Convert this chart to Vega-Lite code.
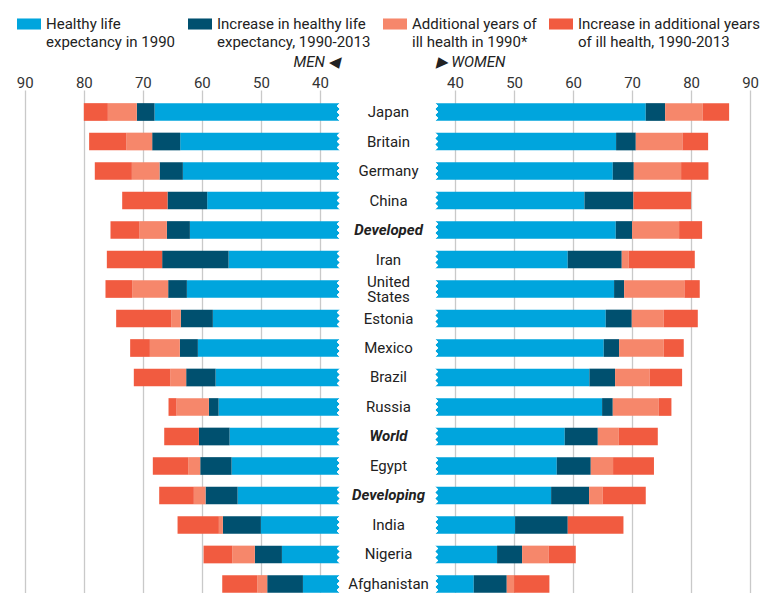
{
  "$schema": "https://vega.github.io/schema/vega-lite/v6.json",
  "padding": {"left": 0, "top": 12, "right": 0, "bottom": 0},
  "bounds": "flush",
  "spacing": 95,
  "background": "white",
  "config": {
    "view": {"stroke": null},
    "font": "Roboto",
    "axis": {"labelFont": "Roboto", "titleFont": "Roboto"}
  },
  "data": {
    "values": [
      {"country": "Japan", "sex": "Men", "healthy1990": 68.02, "healthyIncrease": 3.00, "ill1990": 4.91, "illIncrease": 4.07},
      {"country": "Britain", "sex": "Men", "healthy1990": 63.67, "healthyIncrease": 4.75, "ill1990": 4.35, "illIncrease": 6.33},
      {"country": "Germany", "sex": "Men", "healthy1990": 63.22, "healthyIncrease": 3.95, "ill1990": 4.69, "illIncrease": 6.28},
      {"country": "China", "sex": "Men", "healthy1990": 59.10, "healthyIncrease": 6.72, "ill1990": 0, "illIncrease": 7.68},
      {"country": "Developed", "sex": "Men", "healthy1990": 62.03, "healthyIncrease": 3.90, "ill1990": 4.63, "illIncrease": 4.92},
      {"country": "Iran", "sex": "Men", "healthy1990": 55.48, "healthyIncrease": 11.25, "ill1990": 0, "illIncrease": 9.37},
      {"country": "United States", "sex": "Men", "healthy1990": 62.54, "healthyIncrease": 3.17, "ill1990": 6.10, "illIncrease": 4.52},
      {"country": "Estonia", "sex": "Men", "healthy1990": 58.14, "healthyIncrease": 5.42, "ill1990": 1.64, "illIncrease": 9.32},
      {"country": "Mexico", "sex": "Men", "healthy1990": 60.68, "healthyIncrease": 3.05, "ill1990": 5.08, "illIncrease": 3.34},
      {"country": "Brazil", "sex": "Men", "healthy1990": 57.68, "healthyIncrease": 4.98, "ill1990": 2.71, "illIncrease": 6.16},
      {"country": "Russia", "sex": "Men", "healthy1990": 57.17, "healthyIncrease": 1.64, "ill1990": 5.48, "illIncrease": 1.36},
      {"country": "World", "sex": "Men", "healthy1990": 55.31, "healthyIncrease": 5.20, "ill1990": 0, "illIncrease": 5.87},
      {"country": "Egypt", "sex": "Men", "healthy1990": 54.97, "healthyIncrease": 5.31, "ill1990": 2.04, "illIncrease": 5.99},
      {"country": "Developing", "sex": "Men", "healthy1990": 53.95, "healthyIncrease": 5.43, "ill1990": 1.98, "illIncrease": 5.87},
      {"country": "India", "sex": "Men", "healthy1990": 50.00, "healthyIncrease": 6.44, "ill1990": 0.68, "illIncrease": 7.00},
      {"country": "Nigeria", "sex": "Men", "healthy1990": 46.44, "healthyIncrease": 4.58, "ill1990": 3.84, "illIncrease": 4.86},
      {"country": "Afghanistan", "sex": "Men", "healthy1990": 42.88, "healthyIncrease": 6.05, "ill1990": 1.69, "illIncrease": 5.93},
      {"country": "Japan", "sex": "Women", "healthy1990": 72.32, "healthyIncrease": 3.28, "ill1990": 6.38, "illIncrease": 4.47},
      {"country": "Britain", "sex": "Women", "healthy1990": 67.29, "healthyIncrease": 3.34, "ill1990": 7.91, "illIncrease": 4.35},
      {"country": "Germany", "sex": "Women", "healthy1990": 66.73, "healthyIncrease": 3.56, "ill1990": 8.02, "illIncrease": 4.63},
      {"country": "China", "sex": "Women", "healthy1990": 61.93, "healthyIncrease": 8.30, "ill1990": 0, "illIncrease": 9.77},
      {"country": "Developed", "sex": "Women", "healthy1990": 67.24, "healthyIncrease": 2.76, "ill1990": 7.97, "illIncrease": 3.90},
      {"country": "Iran", "sex": "Women", "healthy1990": 59.10, "healthyIncrease": 9.15, "ill1990": 1.19, "illIncrease": 11.19},
      {"country": "United States", "sex": "Women", "healthy1990": 66.95, "healthyIncrease": 1.70, "ill1990": 10.22, "illIncrease": 2.60},
      {"country": "Estonia", "sex": "Women", "healthy1990": 65.54, "healthyIncrease": 4.41, "ill1990": 5.42, "illIncrease": 5.77},
      {"country": "Mexico", "sex": "Women", "healthy1990": 65.20, "healthyIncrease": 2.60, "ill1990": 7.57, "illIncrease": 3.39},
      {"country": "Brazil", "sex": "Women", "healthy1990": 62.77, "healthyIncrease": 4.35, "ill1990": 5.88, "illIncrease": 5.48},
      {"country": "Russia", "sex": "Women", "healthy1990": 64.92, "healthyIncrease": 1.81, "ill1990": 7.80, "illIncrease": 2.14},
      {"country": "World", "sex": "Women", "healthy1990": 58.59, "healthyIncrease": 5.60, "ill1990": 3.56, "illIncrease": 6.61},
      {"country": "Egypt", "sex": "Women", "healthy1990": 57.24, "healthyIncrease": 5.76, "ill1990": 3.78, "illIncrease": 6.93},
      {"country": "Developing", "sex": "Women", "healthy1990": 56.28, "healthyIncrease": 6.43, "ill1990": 2.32, "illIncrease": 7.29},
      {"country": "India", "sex": "Women", "healthy1990": 50.17, "healthyIncrease": 8.93, "ill1990": 0, "illIncrease": 9.44},
      {"country": "Nigeria", "sex": "Women", "healthy1990": 47.12, "healthyIncrease": 4.24, "ill1990": 4.52, "illIncrease": 4.58},
      {"country": "Afghanistan", "sex": "Women", "healthy1990": 43.17, "healthyIncrease": 5.59, "ill1990": 1.24, "illIncrease": 5.99}
    ]
  },
  "transform": [
    {"fold": ["healthy1990", "healthyIncrease", "ill1990", "illIncrease"], "as": ["segment", "years"]}
  ],
  "resolve": {"scale": {"x": "independent", "y": "shared", "color": "shared"}, "legend": {"color": "shared"}},
  "hconcat": [
    {
      "width": 340,
      "height": 516,
      "transform": [{"filter": "datum.sex === 'Men'"}],
      "layer": [
        {
          "mark": {"type": "bar", "clip": true},
          "encoding": {
            "y": {
              "field": "country", "type": "nominal",
              "sort": ["Japan", "Britain", "Germany", "China", "Developed", "Iran", "United States", "Estonia", "Mexico", "Brazil", "Russia", "World", "Egypt", "Developing", "India", "Nigeria", "Afghanistan"],
              "scale": {"paddingInner": 0.4, "paddingOuter": 0.446},
              "axis": null
            },
            "x": {
              "field": "years", "type": "quantitative", "stack": "zero",
              "scale": {"domain": [36.6, 94.2], "reverse": true, "nice": false, "zero": false},
              "axis": {
                "orient": "top", "values": [40, 50, 60, 70, 80, 90],
                "grid": true, "gridColor": "#c9c9c9", "gridWidth": 1.3,
                "ticks": false, "domain": false,
                "labelFontSize": 15, "labelColor": "#333", "labelPadding": 0,
                "title": "MEN ◀", "titleAnchor": "start", "titleAlign": "right",
                "titleFontSize": 15, "titleFontStyle": "italic", "titleFontWeight": "normal",
                "titleColor": "#222", "titlePadding": 6
              }
            },
            "color": {
              "field": "segment", "type": "nominal",
              "scale": {
                "domain": ["healthy1990", "healthyIncrease", "ill1990", "illIncrease"],
                "range": ["#00a5dd", "#00506f", "#f6876b", "#f15b40"]
              },
              "legend": {
                "orient": "none", "legendX": 17, "legendY": -78,
                "direction": "horizontal", "columns": 4, "title": null, "padding": 0,
                "symbolType": "M-1,-0.46H1V0.46H-1Z", "symbolSize": 576, "symbolStrokeWidth": 0,
                "labelFont": "Roboto", "labelFontSize": 15, "labelColor": "#222",
                "labelOffset": 5, "labelLimit": 400, "columnPadding": 12,
                "labelExpr": "datum.value == 'healthy1990' ? ['Healthy life', 'expectancy in 1990'] : datum.value == 'healthyIncrease' ? ['Increase in healthy life', 'expectancy, 1990-2013'] : datum.value == 'ill1990' ? ['Additional years of', 'ill health in 1990*'] : ['Increase in additional years', 'of ill health, 1990-2013']",
                "encode": {"labels": {"update": {"lineHeight": {"value": 18}}}}
              }
            },
            "order": {"field": "segment", "sort": "ascending"}
          }
        },
        {
          "mark": {"type": "point", "shape": "M0,-1L-0.33,-0.667L0,-0.333L-0.33,0L0,0.333L-0.33,0.667L0,1Z", "filled": true, "color": "white", "opacity": 1, "size": 330, "strokeWidth": 0},
          "encoding": {
            "y": {
              "field": "country", "type": "nominal",
              "sort": ["Japan", "Britain", "Germany", "China", "Developed", "Iran", "United States", "Estonia", "Mexico", "Brazil", "Russia", "World", "Egypt", "Developing", "India", "Nigeria", "Afghanistan"]
            },
            "x": {"datum": 36.6, "type": "quantitative"}
          }
        }
      ]
    },
    {
      "width": 329,
      "height": 516,
      "transform": [{"filter": "datum.sex === 'Women'"}],
      "layer": [
        {
          "mark": {"type": "bar", "clip": true},
          "encoding": {
            "y": {
              "field": "country", "type": "nominal",
              "sort": ["Japan", "Britain", "Germany", "China", "Developed", "Iran", "United States", "Estonia", "Mexico", "Brazil", "Russia", "World", "Egypt", "Developing", "India", "Nigeria", "Afghanistan"],
              "scale": {"paddingInner": 0.4, "paddingOuter": 0.446},
              "axis": {
                "orient": "left", "title": null, "ticks": false, "domain": false, "grid": false,
                "labelAlign": "center", "labelPadding": 47, "labelFontSize": 15, "labelColor": "#222",
                "labelLineHeight": 15, "labelLimit": 200,
                "labelExpr": "datum.value == 'United States' ? ['United', 'States'] : datum.value",
                "labelOffset": {"condition": {"test": "datum.value == 'United States'", "value": -7}, "value": 0},
                "labelFontWeight": {"condition": {"test": "indexof(['Developed', 'World', 'Developing'], datum.value) >= 0", "value": "bold"}, "value": "normal"},
                "labelFontStyle": {"condition": {"test": "indexof(['Developed', 'World', 'Developing'], datum.value) >= 0", "value": "italic"}, "value": "normal"}
              }
            },
            "x": {
              "field": "years", "type": "quantitative", "stack": "zero",
              "scale": {"domain": [36.6, 92.36], "nice": false, "zero": false},
              "axis": {
                "orient": "top", "values": [40, 50, 60, 70, 80, 90],
                "grid": true, "gridColor": "#c9c9c9", "gridWidth": 1.3,
                "ticks": false, "domain": false,
                "labelFontSize": 15, "labelColor": "#333", "labelPadding": 0,
                "title": "▶ WOMEN", "titleAnchor": "start", "titleAlign": "left",
                "titleFontSize": 15, "titleFontStyle": "italic", "titleFontWeight": "normal",
                "titleColor": "#222", "titlePadding": 6
              }
            },
            "color": {"field": "segment", "type": "nominal"},
            "order": {"field": "segment", "sort": "ascending"}
          }
        },
        {
          "mark": {"type": "point", "shape": "M0,-1L0.33,-0.667L0,-0.333L0.33,0L0,0.333L0.33,0.667L0,1Z", "filled": true, "color": "white", "opacity": 1, "size": 330, "strokeWidth": 0},
          "encoding": {
            "y": {
              "field": "country", "type": "nominal",
              "sort": ["Japan", "Britain", "Germany", "China", "Developed", "Iran", "United States", "Estonia", "Mexico", "Brazil", "Russia", "World", "Egypt", "Developing", "India", "Nigeria", "Afghanistan"]
            },
            "x": {"datum": 36.6, "type": "quantitative"}
          }
        }
      ]
    }
  ]
}
